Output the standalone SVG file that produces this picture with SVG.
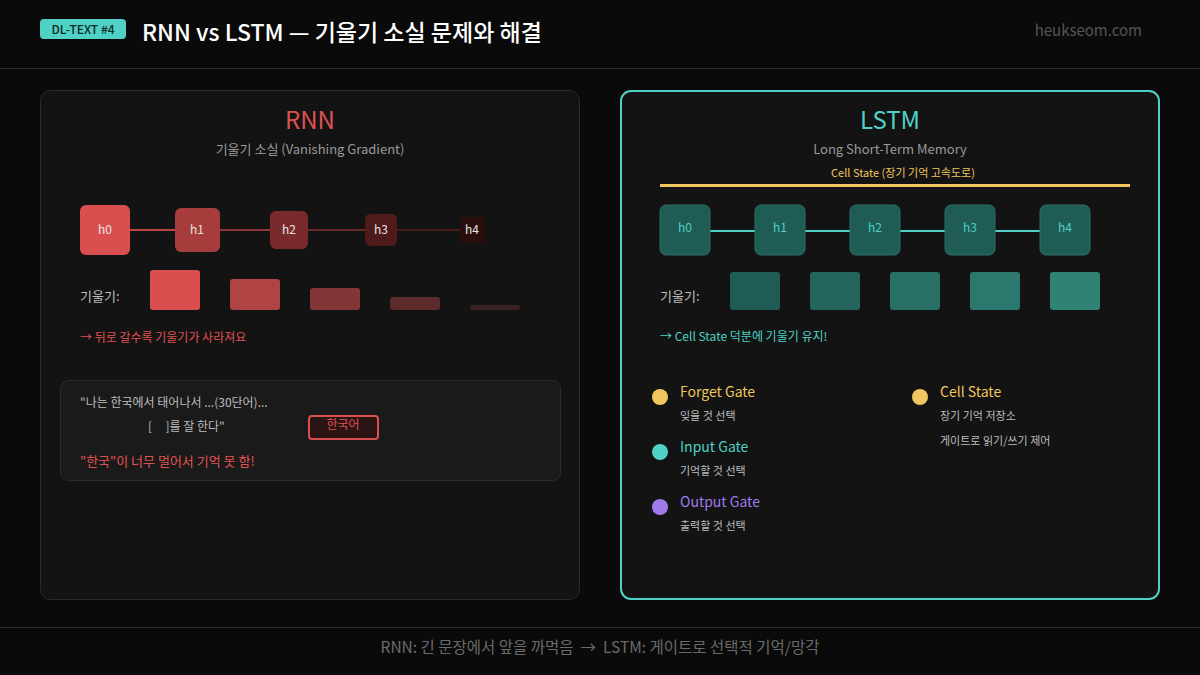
<svg xmlns="http://www.w3.org/2000/svg" width="1200" height="675" viewBox="0 0 1200 675">
<style>
text{font-family:"Noto Sans CJK KR","Noto Sans",sans-serif;white-space:pre}
.w{fill:#fff}.g{fill:#9a9a9a}.lg{fill:#bdbdbd}
.rl{fill:#e05252}.tl{fill:#4fd1c5}
.ln{fill:#e6e6e6;font-size:12px;text-anchor:middle}
.tn{fill:#4fd1c5;font-size:12px;text-anchor:middle}
.tb{fill:#1f5c55;stroke:#2b6e65;stroke-width:1}
</style>
<rect width="1200" height="675" fill="#0a0a0a"/>
<line x1="0" y1="68.5" x2="1200" y2="68.5" stroke="#2a2a2a"/>
<line x1="0" y1="627.5" x2="1200" y2="627.5" stroke="#2a2a2a"/>
<g id="header">
<rect x="40" y="19" width="86" height="20" rx="4" fill="#4fd1c5"/>
<text x="83" y="33.5" font-size="12" font-weight="500" fill="#0a2a28" text-anchor="middle">DL-TEXT #4</text>
<text x="142" y="41" font-size="23" font-weight="500" class="w">RNN vs LSTM — 기울기 소실 문제와 해결</text>
<text x="1142" y="36" font-size="15" fill="#555" text-anchor="end">heukseom.com</text>
</g>
<g id="rnn-panel">
<rect x="40.5" y="90.5" width="539" height="509" rx="10" fill="#131313" stroke="#2a2a2a"/>
<text x="310" y="129" font-size="24" class="rl" text-anchor="middle">RNN</text>
<text x="310" y="154" font-size="13" class="g" text-anchor="middle">기울기 소실 (Vanishing Gradient)</text>
</g>
<g id="lstm-panel">
<rect x="621" y="91" width="538" height="508" rx="10" fill="#131313" stroke="#4fd1c5" stroke-width="2"/>
<text x="890" y="129" font-size="24" class="tl" text-anchor="middle">LSTM</text>
<text x="890" y="154" font-size="13" class="g" text-anchor="middle">Long Short-Term Memory</text>
<text x="903" y="177" font-size="11" fill="#f0c75e" text-anchor="middle">Cell State (장기 기억 고속도로)</text>
</g>
<g id="connectors">
<line x1="130" y1="230" x2="175" y2="230" stroke="#b84444" stroke-width="2"/>
<line x1="220" y1="230" x2="270" y2="230" stroke="#8e3535" stroke-width="2"/>
<line x1="308" y1="230" x2="365" y2="230" stroke="#672828" stroke-width="2"/>
<line x1="397" y1="230" x2="460" y2="230" stroke="#4a1d1d" stroke-width="2"/>
<line x1="710" y1="231" x2="755" y2="231" stroke="#4fd1c5" stroke-width="2"/>
<line x1="805" y1="231" x2="850" y2="231" stroke="#4fd1c5" stroke-width="2"/>
<line x1="900" y1="231" x2="945" y2="231" stroke="#4fd1c5" stroke-width="2"/>
<line x1="995" y1="231" x2="1040" y2="231" stroke="#4fd1c5" stroke-width="2"/>
<line x1="660" y1="185.5" x2="1130" y2="185.5" stroke="#f0c75e" stroke-width="3"/>
</g>
<g id="rnn-h0"><rect x="80" y="205" width="50" height="50" rx="6" fill="#d94f4f"/><text x="105" y="234" class="ln">h0</text></g>
<g id="rnn-h1"><rect x="175" y="208" width="45" height="44" rx="6" fill="#a63c3c"/><text x="197" y="234" class="ln">h1</text></g>
<g id="rnn-h2"><rect x="270" y="211" width="38" height="38" rx="6" fill="#7a2a2a"/><text x="289" y="234" class="ln">h2</text></g>
<g id="rnn-h3"><rect x="365" y="214" width="32" height="32" rx="5" fill="#4e1a1a"/><text x="381" y="234" class="ln">h3</text></g>
<g id="rnn-h4"><rect x="460" y="217" width="25" height="26" rx="4" fill="#2a0e0e"/><text x="472" y="234" class="ln">h4</text></g>
<g id="rnn-grad">
<text x="80" y="301" font-size="13" class="lg">기울기:</text>
<rect x="150" y="270" width="50" height="40" rx="3" fill="#d94f4f"/>
<rect x="230" y="279" width="50" height="31" rx="3" fill="#b04444"/>
<rect x="310" y="288" width="50" height="22" rx="3" fill="#843636"/>
<rect x="390" y="297" width="50" height="13" rx="3" fill="#5c2b2b"/>
<rect x="470" y="305" width="50" height="5" rx="2" fill="#3a2222"/>
<text x="80" y="342" font-size="12" class="rl">→ 뒤로 갈수록 기울기가 사라져요</text>
</g>
<g id="rnn-example">
<rect x="60.5" y="380.5" width="500" height="100" rx="8" fill="#1a1a1a" stroke="#2c2c2c"/>
<text x="80" y="407" font-size="12" class="lg">"나는 한국에서 태어나서 ...(30단어)...</text>
<text x="148" y="431" font-size="12" class="lg" xml:space="preserve">[     ]를 잘 한다"</text>
<rect x="309" y="416" width="69" height="23" rx="3" fill="#2a1414" stroke="#d94f4f" stroke-width="2"/>
<text x="343" y="429" font-size="12" class="rl" text-anchor="middle">한국어</text>
<text x="80" y="466" font-size="13" class="rl">"한국"이 너무 멀어서 기억 못 함!</text>
</g>
<g id="lstm-h0"><rect x="660" y="205" width="50" height="50" rx="6" class="tb"/><text x="685" y="232" class="tn">h0</text></g>
<g id="lstm-h1"><rect x="755" y="205" width="50" height="50" rx="6" class="tb"/><text x="780" y="232" class="tn">h1</text></g>
<g id="lstm-h2"><rect x="850" y="205" width="50" height="50" rx="6" class="tb"/><text x="875" y="232" class="tn">h2</text></g>
<g id="lstm-h3"><rect x="945" y="205" width="50" height="50" rx="6" class="tb"/><text x="970" y="232" class="tn">h3</text></g>
<g id="lstm-h4"><rect x="1040" y="205" width="50" height="50" rx="6" class="tb"/><text x="1065" y="232" class="tn">h4</text></g>
<g id="lstm-grad">
<text x="660" y="301" font-size="13" class="lg">기울기:</text>
<rect x="730" y="272" width="50" height="38" rx="3" fill="#1f5c55"/>
<rect x="810" y="272" width="50" height="38" rx="3" fill="#24665e"/>
<rect x="890" y="272" width="50" height="38" rx="3" fill="#286f66"/>
<rect x="970" y="272" width="50" height="38" rx="3" fill="#2c786e"/>
<rect x="1050" y="272" width="50" height="38" rx="3" fill="#2f8274"/>
<text x="660" y="341" font-size="12" class="tl">→ Cell State 덕분에 기울기 유지!</text>
</g>
<g id="legend">
<circle cx="660" cy="397" r="8" fill="#f0c75e"/>
<text x="680" y="397" font-size="14" fill="#f0c75e">Forget Gate</text>
<text x="680" y="420" font-size="11" class="lg">잊을 것 선택</text>
<circle cx="660" cy="452" r="8" fill="#4fd1c5"/>
<text x="680" y="452" font-size="14" class="tl">Input Gate</text>
<text x="680" y="475" font-size="11" class="lg">기억할 것 선택</text>
<circle cx="660" cy="507" r="8" fill="#9f7aea"/>
<text x="680" y="507" font-size="14" fill="#9f7aea">Output Gate</text>
<text x="680" y="530" font-size="11" class="lg">출력할 것 선택</text>
<circle cx="920" cy="397" r="8" fill="#f0c75e"/>
<text x="940" y="397" font-size="14" fill="#f0c75e">Cell State</text>
<text x="940" y="420" font-size="11" class="lg">장기 기억 저장소</text>
<text x="940" y="445" font-size="11" class="lg">게이트로 읽기/쓰기 제어</text>
</g>
<g id="footer">
<text x="600" y="653" font-size="15.5" fill="#6a6a6a" text-anchor="middle" xml:space="preserve">RNN: 긴 문장에서 앞을 까먹음  →  LSTM: 게이트로 선택적 기억/망각</text>
</g>
</svg>
